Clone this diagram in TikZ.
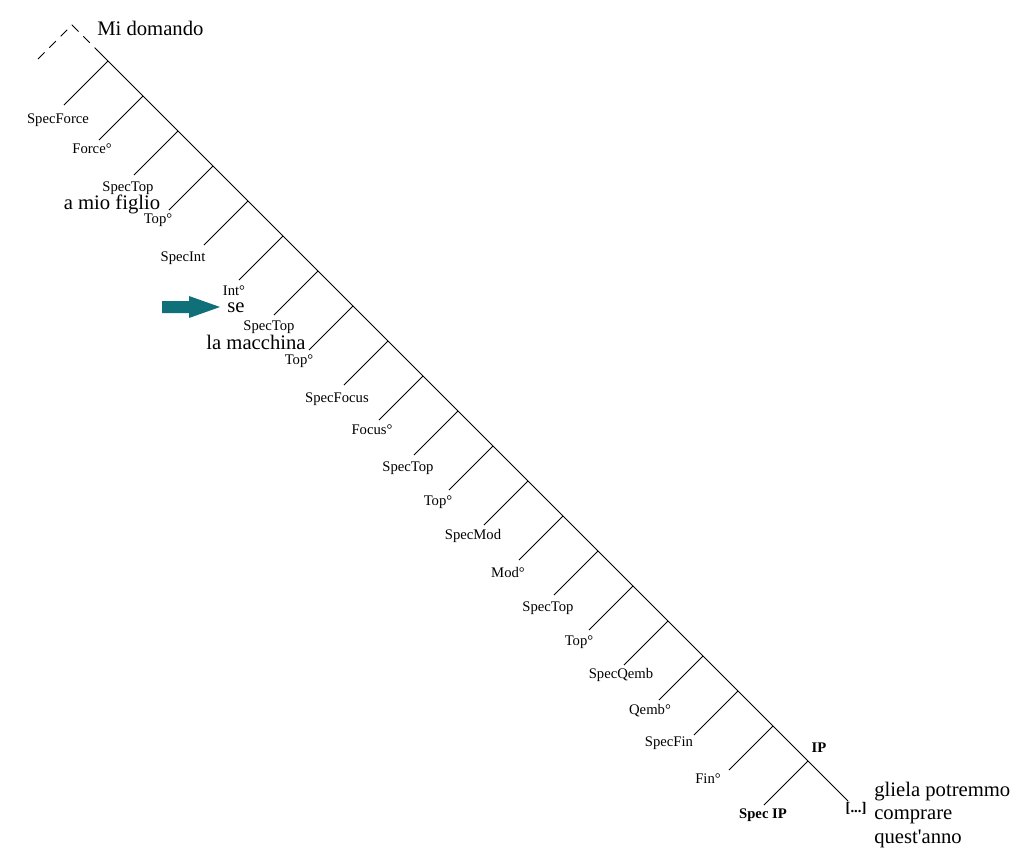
\documentclass[tikz,border=0pt]{standalone}
\usepackage{fontspec}
\setmainfont{Liberation Serif}[Ligatures=TeXOff]
\usetikzlibrary{positioning}
\definecolor{pointerteal}{RGB}{16,112,122}

\begin{document}
\begin{tikzpicture}[x=0.75pt, y=-0.75pt, every node/.style={inner sep=0pt}]
  % Styles
  \tikzset{
    branch/.style={line width=0.6pt},
    proj/.style={font=\fontsize{11}{13}\selectfont},
    bproj/.style={font=\fontsize{11}{13}\selectfont\bfseries},
    word/.style={font=\fontsize{15.5}{17.5}\selectfont},
    pointer/.style={fill=pointerteal, draw=none}
  }

  \useasboundingbox (0,0) rectangle (1019,850);

  % Spine and branch points
  \coordinate (top) at (72,25);
  \coordinate (dl) at (38,59);
  \coordinate (dr) at (97,50);
  \coordinate (foot) at (848,801);
  \foreach \k in {0,...,20} {
    \coordinate (b\k) at ({108+35*\k},{61+35*\k});
    \coordinate (e\k) at ({64+35*\k},{105+35*\k});
  }

  % Lines
  \draw[branch, dash pattern=on 7pt off 5pt] (dl) -- (top) -- (dr);
  \draw[branch] (dr) -- (foot);
  \foreach \k in {0,...,20} \draw[branch] (b\k) -- (e\k);

  % Labels
  \node[word, anchor=west] (matrix) at (97,28) {Mi domando};
  \node[proj] (specforce) at (58,120) {SpecForce};
  \node[proj] (force) at (92,149) {Force°};
  \node[proj] (spectopa) at (128,188) {SpecTop};
  \node[word] (figlio) at (112,204) {a mio figlio};
  \node[proj] (topa) at (158,220) {Top°};
  \node[proj] (specint) at (183,258) {SpecInt};
  \node[proj] (int) at (234,291) {Int°};
  \node[word] (se) at (236,308) {se};
  \node[proj] (spectopb) at (269,327) {SpecTop};
  \node[word] (macchina) at (256,342) {la macchina};
  \node[proj] (topb) at (299,361) {Top°};
  \node[proj] (specfocus) at (337,399) {SpecFocus};
  \node[proj] (focus) at (372,430) {Focus°};
  \node[proj] (spectopc) at (408,468) {SpecTop};
  \node[proj] (topc) at (438,502) {Top°};
  \node[proj] (specmod) at (473,536) {SpecMod};
  \node[proj] (mod) at (508,572) {Mod°};
  \node[proj] (spectopd) at (548,608) {SpecTop};
  \node[proj] (topd) at (579,642) {Top°};
  \node[proj] (specqemb) at (621,675) {SpecQemb};
  \node[proj] (qemb) at (650,711) {Qemb°};
  \node[proj] (specfin) at (669,743) {SpecFin};
  \node[proj] (fin) at (708,779) {Fin°};
  \node[bproj] (specip) at (763,815) {Spec IP};
  \node[bproj] (ip) at (819,748) {IP};
  \node[bproj] (dots) at (856,808) {[...]};
  \node[word, anchor=west, align=left] (rest) at (874,815)
    {gliela potremmo\\comprare\\quest'anno};

  % Pointer to the interrogative head
  \fill[pointer] (162,301) -- (189,301) -- (189,296) -- (220,307)
    -- (189,318) -- (189,313) -- (162,313) -- cycle;
\end{tikzpicture}
\end{document}
